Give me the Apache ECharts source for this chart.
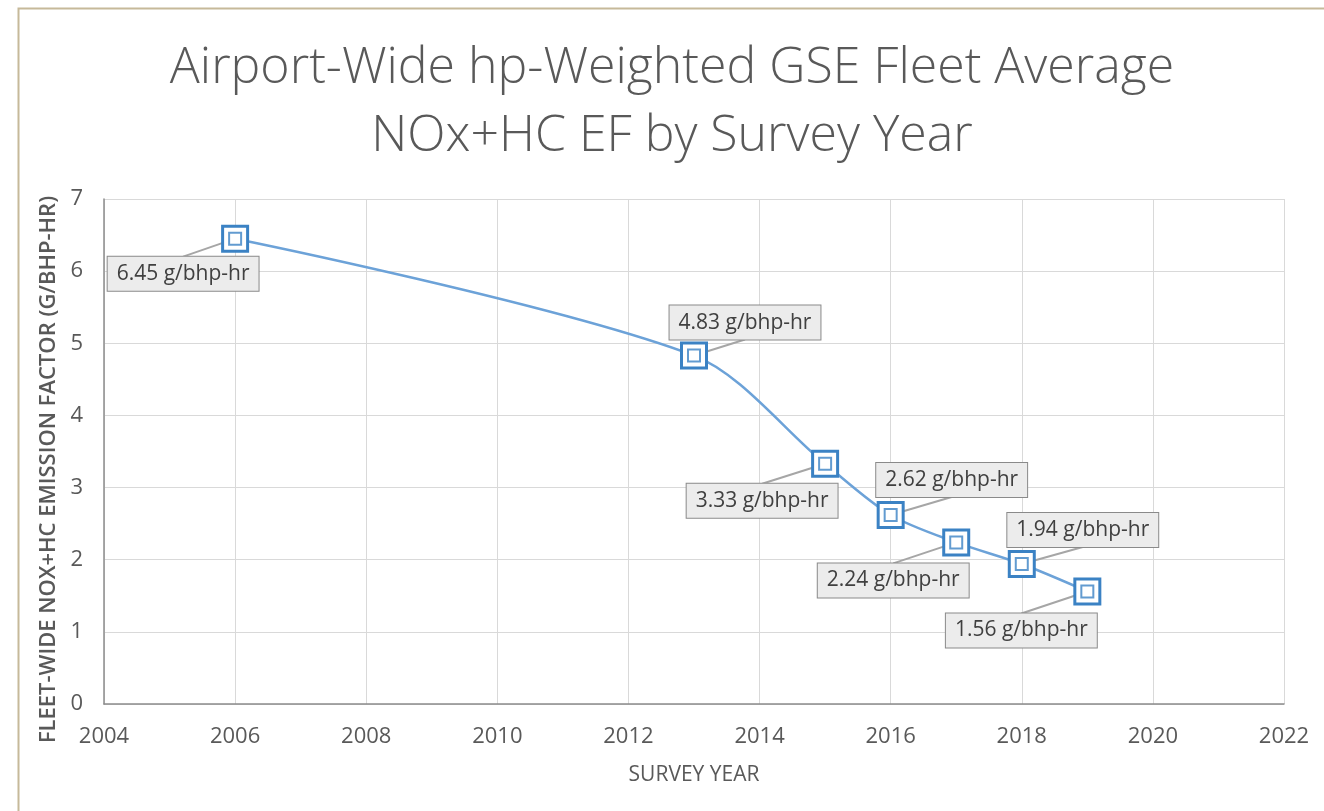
<!DOCTYPE html>
<html>
<head>
<meta charset="utf-8">
<script src="https://cdn.jsdelivr.net/npm/echarts@6/dist/echarts.min.js"></script>
<style>
  html, body { margin: 0; padding: 0; background: #fff; }
  #chart { width: 1324px; height: 811px; }
</style>
</head>
<body>
<div id="chart"></div>
<script>
// survey years and fleet average NOx+HC EF (g/bhp-hr)
const years = [2006, 2013, 2015, 2016, 2017, 2018, 2019]
const efValues = [6.45, 4.83, 3.33, 2.62, 2.24, 1.94, 1.56]
const xTicks = [2004, 2022, 2] // min, max, step
const yTicks = [0, 7, 1]

// where each data label box sits relative to its point (px)
const labelShift = [
  [-52, 35], [51, -33], [-63, 37], [61, -35], [-63, 38], [61, -34], [-66, 39]
]
const boxHalf = 17

const chart = echarts.init(document.getElementById('chart'))
const textColor = '#595959'
const points = years.map((y, i) => [y, efValues[i]])

chart.setOption({
  animation: false,
  textStyle: { fontFamily: 'Open Sans' },
  graphic: [{
    type: 'rect',
    left: 16,
    top: 6,
    shape: { width: 1400, height: 900 },
    style: { fill: 'none', stroke: '#c6b99a', lineWidth: 2 },
    silent: true
  }],
  title: {
    text: 'Airport-Wide hp-Weighted GSE Fleet Average\nNOx+HC EF by Survey Year',
    left: 667,
    top: 30,
    textAlign: 'center',
    textStyle: {
      fontFamily: 'Open Sans',
      fontWeight: 300,
      fontSize: 50,
      lineHeight: 68,
      color: textColor
    }
  },
  grid: { left: 104, right: 40, top: 199, bottom: 107 },
  xAxis: {
    type: 'value',
    min: xTicks[0],
    max: xTicks[1],
    interval: xTicks[2],
    name: 'SURVEY YEAR',
    nameLocation: 'middle',
    nameGap: 61,
    nameTextStyle: { fontSize: 21, color: textColor },
    axisLine: { show: true, lineStyle: { color: '#8c8c8c', width: 1.5 } },
    axisTick: { show: false },
    axisLabel: { fontSize: 22, color: textColor, margin: 22, formatter: v => String(v) },
    splitLine: { show: true, lineStyle: { color: '#d9d9d9' } }
  },
  yAxis: {
    type: 'value',
    min: yTicks[0],
    max: yTicks[1],
    interval: yTicks[2],
    name: 'FLEET-WIDE NOX+HC EMISSION FACTOR (G/BHP-HR)',
    nameLocation: 'middle',
    nameRotate: 90,
    nameGap: 43,
    nameTextStyle: { fontSize: 22, fontWeight: 600, color: textColor, padding: [0, 36, 0, 0] },
    axisLine: { show: true, lineStyle: { color: '#8c8c8c', width: 1.5 } },
    axisTick: { show: false },
    axisLabel: { fontSize: 22, color: textColor, margin: 21 },
    splitLine: { show: true, lineStyle: { color: '#d9d9d9' } }
  },
  series: [
    {
      // leader lines from each point to its label box
      type: 'custom',
      data: points,
      renderItem: (params, api) => {
        const p = api.coord([api.value(0), api.value(1)])
        const s = labelShift[params.dataIndex]
        return {
          type: 'line',
          shape: {
            x1: p[0], y1: p[1],
            x2: p[0] + s[0], y2: p[1] + s[1] - Math.sign(s[1]) * boxHalf
          },
          style: { stroke: '#a6a6a6', lineWidth: 2 }
        }
      },
      silent: true,
      z: 1
    },
    {
      type: 'line',
      data: points,
      smooth: 0.3,
      lineStyle: { color: '#6ca2d8', width: 2.5 },
      symbol: 'rect',
      symbolSize: 25,
      itemStyle: { color: '#ffffff', borderColor: '#3b82c4', borderWidth: 3 },
      label: {
        show: true,
        position: 'inside',
        formatter: p => p.value[1].toFixed(2) + ' g/bhp-hr',
        fontSize: 21,
        lineHeight: 24,
        color: '#404040',
        backgroundColor: '#ececec',
        borderColor: '#8a8a8a',
        borderWidth: 1,
        padding: [5, 9]
      },
      labelLayout: p => ({
        dx: labelShift[p.dataIndex][0],
        dy: labelShift[p.dataIndex][1]
      }),
      z: 2
    },
    {
      type: 'scatter',
      data: points,
      symbol: 'rect',
      symbolSize: 12,
      itemStyle: { color: 'rgba(255,255,255,0)', borderColor: '#3b82c4', borderWidth: 2 },
      z: 3
    }
  ]
})
</script>
</body>
</html>
